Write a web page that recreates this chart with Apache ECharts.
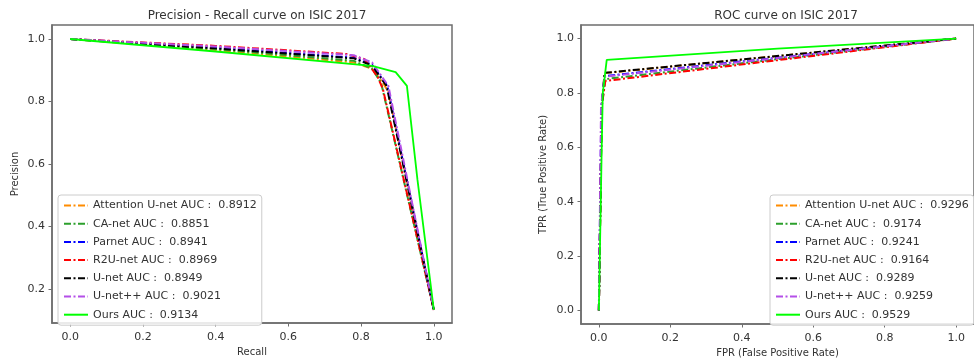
<!DOCTYPE html>
<html>
<head>
<meta charset="utf-8">
<script src="https://cdn.jsdelivr.net/npm/echarts@6/dist/echarts.min.js"></script>
<style>
  html, body { margin: 0; padding: 0; background: #fff; }
  #chart { width: 974px; height: 364px; }
</style>
</head>
<body>
<div id="chart"></div>
<script>
// model names + AUC labels
const modelNames = ['Attention U-net', 'CA-net', 'Parnet', 'R2U-net', 'U-net', 'U-net++', 'Ours'];
const prAuc = ['0.8912', '0.8851', '0.8941', '0.8969', '0.8949', '0.9021', '0.9134'];
const rocAuc = ['0.9296', '0.9174', '0.9241', '0.9164', '0.9289', '0.9259', '0.9529'];
const colors = ['#ff8c00', '#2ca02c', '#0000ff', '#ff0000', '#000000', '#b44fe8', '#00ff00'];

// precision-recall curves, [recall, precision]
const prAttention = [[0, 1], [0.4, 0.965], [0.78, 0.925], [0.83, 0.905], [0.86, 0.86], [0.875, 0.83], [1, 0.133]];
const prCAnet = [[0, 1], [0.4, 0.968], [0.78, 0.93], [0.83, 0.905], [0.855, 0.86], [1, 0.133]];
const prParnet = [[0, 1], [0.4, 0.972], [0.78, 0.94], [0.83, 0.918], [0.872, 0.85], [1, 0.133]];
const prR2U = [[0, 1], [0.4, 0.978], [0.76, 0.952], [0.81, 0.935], [0.845, 0.88], [0.86, 0.84], [1, 0.133]];
const prUnet = [[0, 1], [0.4, 0.97], [0.78, 0.938], [0.83, 0.915], [0.87, 0.85], [1, 0.133]];
const prUnetpp = [[0, 1], [0.4, 0.976], [0.78, 0.948], [0.83, 0.925], [0.875, 0.85], [1, 0.133]];
const prOurs = [[0, 1], [0.4, 0.96], [0.83, 0.914], [0.895, 0.894], [0.926, 0.85], [0.955, 0.55], [1, 0.133]];

// ROC curves, [fpr, tpr]
const rocAttention = [[0, 0], [0.008, 0.75], [0.016, 0.873], [1, 1]];
const rocCAnet = [[0, 0], [0.008, 0.75], [0.018, 0.851], [1, 1]];
const rocParnet = [[0, 0], [0.007, 0.75], [0.016, 0.862], [1, 1]];
const rocR2U = [[0, 0], [0.008, 0.75], [0.018, 0.844], [1, 1]];
const rocUnet = [[0, 0], [0.008, 0.75], [0.016, 0.874], [1, 1]];
const rocUnetpp = [[0, 0], [0.006, 0.75], [0.016, 0.86], [1, 1]];
const rocOurs = [[0, 0], [0.008, 0.6], [0.011, 0.8], [0.022, 0.922], [0.5, 0.963], [1, 1]];

const xTicks = [0, 0.2, 0.4, 0.6, 0.8, 1.0];
const prYTicks = [0.2, 0.4, 0.6, 0.8, 1.0];
const rocYTicks = [0, 0.2, 0.4, 0.6, 0.8, 1.0];

const prData = [prAttention, prCAnet, prParnet, prR2U, prUnet, prUnetpp, prOurs];
const rocData = [rocAttention, rocCAnet, rocParnet, rocR2U, rocUnet, rocUnetpp, rocOurs];

const FONT = 'DejaVu Sans';
const spine = '#6e6e6e';
const dashDot = [7, 2.5, 2, 2.5];

const prNames = modelNames.map((m, i) => m + ' AUC :  ' + prAuc[i]);
const rocNames = modelNames.map((m, i) => m + ' AUC :  ' + rocAuc[i]);

function makeAxis(gridIndex, min, max, ticks, name, isY, nameGap) {
  return {
    type: 'value',
    gridIndex,
    min, max,
    name,
    nameLocation: 'middle',
    nameGap,
    nameTextStyle: { fontFamily: FONT, fontSize: 10, color: '#333' },
    axisLine: { show: true, onZero: false, lineStyle: { color: spine, width: 1.5 } },
    axisTick: { show: true, inside: false, length: 3.5, customValues: ticks, lineStyle: { color: spine, width: 1 } },
    axisLabel: {
      customValues: ticks,
      margin: isY ? 7 : 9,
      fontFamily: FONT, fontSize: 11, color: '#333',
      formatter: v => v.toFixed(1)
    },
    splitLine: { show: false }
  };
}

function makeSeries(data, names, xi) {
  return data.map((d, i) => ({
    type: 'line',
    name: names[i],
    xAxisIndex: xi,
    yAxisIndex: xi,
    data: d,
    symbol: 'none',
    z: 2 + i,
    lineStyle: { color: colors[i], width: i === 6 ? 1.8 : 2, type: i === 6 ? 'solid' : dashDot },
    itemStyle: { color: colors[i] }
  }));
}

function makeLegend(names, left) {
  return {
    data: names,
    orient: 'vertical',
    left, top: 195,
    itemWidth: 24, itemHeight: 10, itemGap: 7.2,
    itemStyle: { opacity: 0 },
    padding: [5, 5, 5, 5],
    backgroundColor: 'rgba(255,255,255,0.85)',
    borderColor: '#cccccc', borderWidth: 1, borderRadius: 3,
    selectedMode: false,
    textStyle: { fontFamily: FONT, fontSize: 11, color: '#333' }
  };
}

const chart = echarts.init(document.getElementById('chart'), null, { renderer: 'canvas' });

chart.setOption({
  animation: false,
  backgroundColor: '#fff',
  title: [
    { text: 'Precision - Recall curve on ISIC 2017', left: 252, top: 5, textAlign: 'center',
      textStyle: { fontFamily: FONT, fontSize: 12, fontWeight: 'normal', color: '#333' } },
    { text: 'ROC curve on ISIC 2017', left: 781, top: 5, textAlign: 'center',
      textStyle: { fontFamily: FONT, fontSize: 12, fontWeight: 'normal', color: '#333' } }
  ],
  grid: [
    { left: 52, top: 25, width: 400, height: 298, show: true, borderColor: spine, borderWidth: 1.5, backgroundColor: 'transparent' },
    { left: 581, top: 25, width: 401, height: 299, show: true, borderColor: spine, borderWidth: 1.5, backgroundColor: 'transparent' }
  ],
  xAxis: [
    makeAxis(0, -0.05, 1.05, xTicks, 'Recall', false, 23),
    makeAxis(1, -0.05, 1.05, xTicks, 'FPR (False Positive Rate)', false, 23)
  ],
  yAxis: [
    makeAxis(0, 0.0912, 1.0448, prYTicks, 'Precision', true, 32),
    makeAxis(1, -0.05, 1.05, rocYTicks, 'TPR (True Positive Rate)', true, 33)
  ],
  legend: [makeLegend(prNames, 58), makeLegend(rocNames, 770)],
  series: [...makeSeries(prData, prNames, 0), ...makeSeries(rocData, rocNames, 1)]
});
</script>
</body>
</html>
